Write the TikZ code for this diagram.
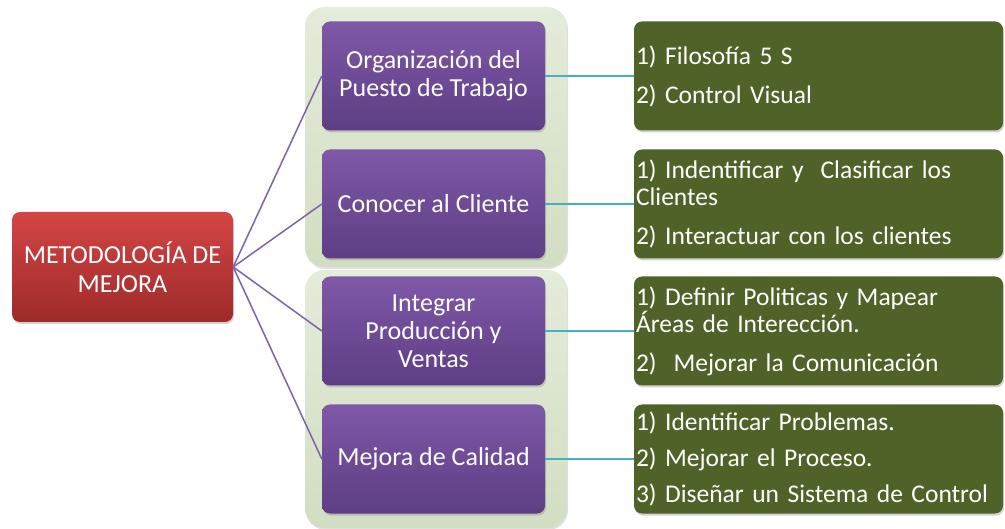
\documentclass[tikz,border=0pt]{standalone}
\usepackage{fontspec}
\setmainfont{Carlito}
\usetikzlibrary{shadows}
\definecolor{rojoA}{HTML}{D44545}
\definecolor{rojoB}{HTML}{9E2A2A}
\definecolor{moradoA}{HTML}{7F58A8}
\definecolor{moradoB}{HTML}{5D3E84}
\definecolor{olivo}{HTML}{4F6228}
\definecolor{panelA}{HTML}{E4ECDA}
\definecolor{panelB}{HTML}{D2DEC2}
\definecolor{lineaM}{HTML}{7E62AA}
\definecolor{lineaC}{HTML}{4BACC6}

\begin{document}
\begin{tikzpicture}[x=1pt, y=-1pt]
    % Styles
    \tikzstyle{root} = [rectangle, rounded corners=8pt, minimum width=221pt, minimum height=110pt, align=center, top color=rojoA, bottom color=rojoB, text=white, font=\fontsize{26}{29}\selectfont, drop shadow={opacity=0.35, shadow xshift=1pt, shadow yshift=-2pt}]
    \tikzstyle{panel} = [rectangle, rounded corners=20pt, minimum width=262pt, top color=panelA, bottom color=panelB, drop shadow={opacity=0.25, shadow xshift=1pt, shadow yshift=-2pt}]
    \tikzstyle{area} = [rectangle, rounded corners=8pt, minimum width=223pt, minimum height=109pt, align=center, top color=moradoA, bottom color=moradoB, text=white, font=\fontsize{26}{28}\selectfont, drop shadow={opacity=0.35, shadow xshift=1pt, shadow yshift=-2pt}]
    \tikzstyle{detalle} = [rectangle, rounded corners=8pt, minimum width=369pt, minimum height=109pt, inner sep=2pt, text width=365pt, align=left, fill=olivo, text=white, font=\fontsize{25.5}{27}\selectfont, drop shadow={opacity=0.35, shadow xshift=1pt, shadow yshift=-2pt}]
    \tikzstyle{rama} = [draw=lineaM, line width=1.5pt]
    \tikzstyle{hoja} = [draw=lineaC, line width=1.5pt]

    \useasboundingbox (0,0) rectangle (1005,529);

    % Background panels
    \node[panel, minimum height=260pt] (panA) at (436, 137) {};
    \node[panel, minimum height=258pt] (panB) at (436, 399) {};

    % Nodes
    \node[root] (meta) at (122.5, 267) {METODOLOGÍA DE\\MEJORA};

    \node[area] (org) at (433.5, 76) {Organización del\\Puesto de Trabajo};
    \node[area] (cli) at (433.5, 204) {Conocer al Cliente};
    \node[area] (int) at (433.5, 331) {Integrar\\Producción y\\Ventas};
    \node[area] (cal) at (433.5, 459) {Mejora de Calidad};

    \node[detalle] (dOrg) at (818.5, 76) {1) Filosofía 5 S\\[12pt]2) Control Visual};
    \node[detalle] (dCli) at (818.5, 204) {1) Indentificar y~ Clasificar los\\Clientes\\[12pt]2) Interactuar con los clientes};
    \node[detalle] (dInt) at (818.5, 331) {1) Definir Politicas y Mapear\\Áreas de Interección.\\[12pt]2)~ Mejorar la Comunicación};
    \node[detalle] (dCal) at (818.5, 459) {1) Identificar Problemas.\\[9pt]2) Mejorar el Proceso.\\[9pt]3) Diseñar un Sistema de Control};

    % Connectors
    \foreach \n in {org, cli, int, cal} {
        \draw[rama] (meta.east) -- (\n.west);
    }
    \draw[hoja] (org) -- (dOrg);
    \draw[hoja] (cli) -- (dCli);
    \draw[hoja] (int) -- (dInt);
    \draw[hoja] (cal) -- (dCal);
\end{tikzpicture}
\end{document}
